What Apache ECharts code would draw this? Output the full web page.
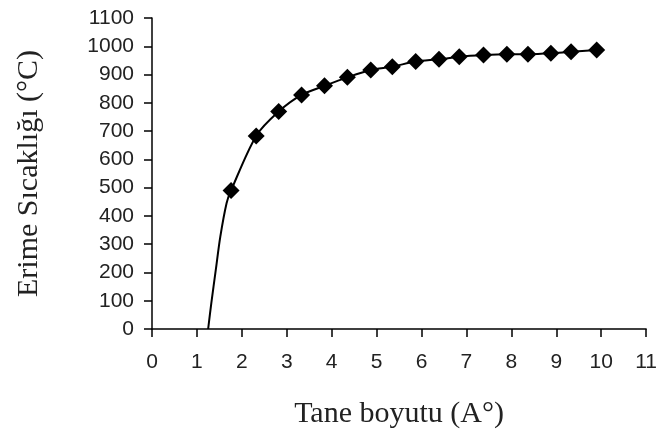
<!DOCTYPE html>
<html>
<head>
<meta charset="utf-8">
<script src="https://cdn.jsdelivr.net/npm/echarts@6/dist/echarts.min.js"></script>
<style>
html, body { margin: 0; padding: 0; background: #fff; }
#chart { width: 660px; height: 441px; }
</style>
</head>
<body>
<div id="chart"></div>
<script>
// measured points (diamonds)
const sizeX = [1.76, 2.32, 2.82, 3.33, 3.84, 4.35, 4.87, 5.35, 5.87, 6.39, 6.84, 7.38, 7.90, 8.37, 8.88, 9.33, 9.90];
const meltT = [490, 683, 769, 828, 860, 890, 916, 928, 946, 954, 963, 969, 972, 972, 975, 981, 987];
// fitted curve continues below the first point down to zero
const tailX = [1.25, 1.32, 1.42, 1.52, 1.66];
const tailT = [0, 91, 209, 326, 445];

const xTitle = 'Tane boyutu (A°)';
const yTitle = 'Erime Sıcaklığı (°C)';

const points = sizeX.map((x, i) => [x, meltT[i]]);
const curve = tailX.map((x, i) => [x, tailT[i]]).concat(points);

const chart = echarts.init(document.getElementById('chart'));

const axisCommon = {
  type: 'value',
  nameLocation: 'middle',
  nameTextStyle: { fontFamily: 'Liberation Serif', fontSize: 30, color: '#222' },
  axisLine: { lineStyle: { color: '#000', width: 1.5 } },
  axisTick: { show: true, length: 8, lineStyle: { color: '#000', width: 1.5 } },
  axisLabel: { fontFamily: 'Liberation Sans', fontSize: 21, color: '#222', formatter: v => String(v) },
  splitLine: { show: false }
};

chart.setOption({
  animation: false,
  grid: { left: 152, right: 12, top: 18, bottom: 112, containLabel: false },
  xAxis: Object.assign({}, axisCommon, {
    min: 0, max: 11, interval: 1,
    name: xTitle, nameGap: 70,
    axisLabel: Object.assign({}, axisCommon.axisLabel, { margin: 23 })
  }),
  yAxis: Object.assign({}, axisCommon, {
    min: 0, max: 1100, interval: 100,
    name: yTitle, nameGap: 108,
    axisLabel: Object.assign({}, axisCommon.axisLabel, { margin: 18 })
  }),
  series: [
    {
      type: 'line',
      data: curve,
      smooth: 0.3,
      showSymbol: false,
      lineStyle: { color: '#000', width: 2 },
      z: 2
    },
    {
      type: 'scatter',
      data: points,
      symbol: 'diamond',
      symbolSize: [17, 17],
      itemStyle: { color: '#000', opacity: 1 },
      z: 3
    }
  ]
});
</script>
</body>
</html>
